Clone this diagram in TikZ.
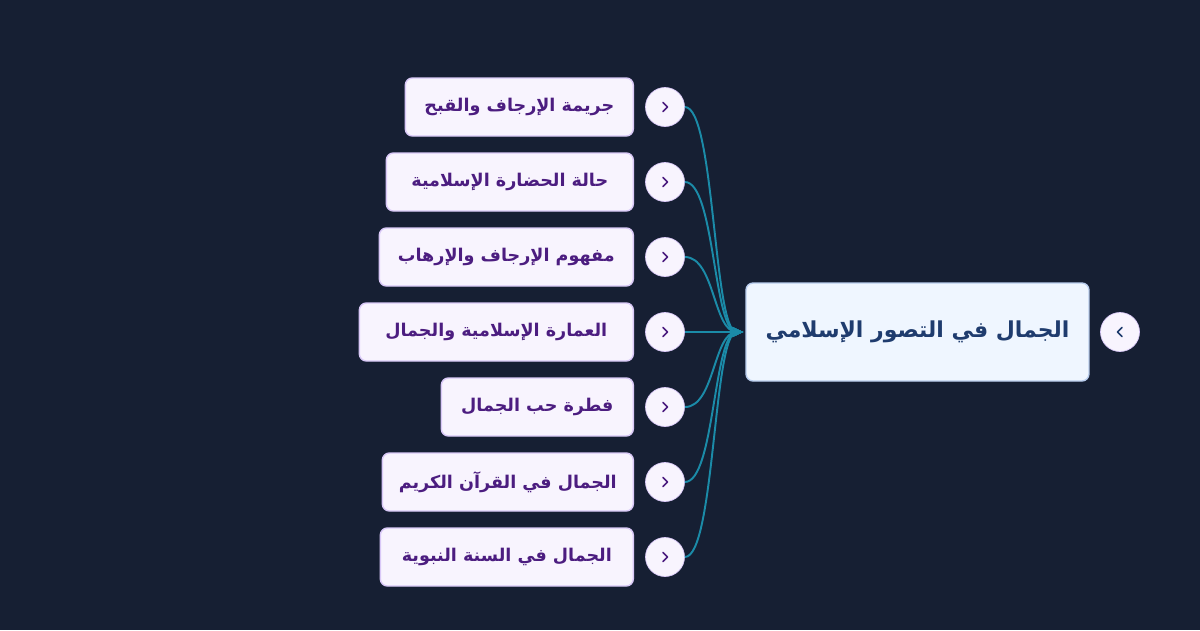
\documentclass[tikz,border=0pt]{standalone}
\usepackage{fontspec}
\usepackage{tikz}
\usetikzlibrary{arrows.meta}
\TeXXeTstate=1
\newfontfamily\arabicfont[Script=Arabic]{DejaVu Sans}
\definecolor{bgnavy}{HTML}{161F33}
\definecolor{rootfill}{HTML}{EFF6FF}
\definecolor{rootline}{HTML}{B9CDEE}
\definecolor{roottext}{HTML}{1F3C6E}
\definecolor{leaffill}{HTML}{F8F4FE}
\definecolor{leafline}{HTML}{D9C8F7}
\definecolor{leaftext}{HTML}{4C1D80}
\definecolor{linkteal}{HTML}{1B8BA8}

\begin{document}
\begin{tikzpicture}[x=0.02cm,y=-0.02cm,
  rootbox/.style={draw=rootline,fill=rootfill,line width=0.8pt,rounded corners=4pt,
    minimum width=6.86cm,minimum height=1.96cm,text=roottext,
    font=\arabicfont\bfseries\fontsize{12.5}{15}\selectfont},
  leafbox/.style={draw=leafline,fill=leaffill,line width=0.8pt,rounded corners=4pt,
    anchor=east,inner xsep=0.3cm,minimum height=1.16cm,text=leaftext,
    font=\arabicfont\bfseries\fontsize{10}{12}\selectfont},
  toggle/.style={circle,draw=leafline,fill=leaffill,line width=0.4pt,minimum size=0.78cm,inner sep=0pt},
  link/.style={linkteal,line width=1.1pt,-{Stealth[length=2.2mm,width=2mm]}},
  chevron/.style={line width=0.9pt,line cap=round,line join=round}]
  % background and page size
  \fill[bgnavy] (0,0) rectangle (1200,630);
  \useasboundingbox (0,0) rectangle (1200,630);
  % root topic
  \node[rootbox] (root) at (917.5,332) {\beginR الجمال في التصور الإسلامي\endR};
  \node[toggle] (roottoggle) at (1120,332) {};
  \draw[chevron,roottext] (roottoggle.center) ++(2,-4.5) -- ++(-4.5,4.5) -- ++(4.5,4.5);
  % subtopics
  \node[leafbox,minimum width=4.56cm] (crime) at (634,107) {\beginR جريمة الإرجاف والقبح\endR};
  \node[leafbox,minimum width=4.94cm] (state) at (634,182) {\beginR حالة الحضارة الإسلامية\endR};
  \node[leafbox,minimum width=5.08cm] (concept) at (634,257) {\beginR مفهوم الإرجاف والإرهاب\endR};
  \node[leafbox,minimum width=5.48cm] (archi) at (634,332) {\beginR العمارة الإسلامية والجمال\endR};
  \node[leafbox,minimum width=3.84cm] (instinct) at (634,407) {\beginR فطرة حب الجمال\endR};
  \node[leafbox,minimum width=5.02cm] (quran) at (634,482) {\beginR الجمال في القرآن الكريم\endR};
  \node[leafbox,minimum width=5.06cm] (sunnah) at (634,557) {\beginR الجمال في السنة النبوية\endR};
  % toggles next to subtopics
  \node[toggle] (t1) at (665,107) {};
  \node[toggle] (t2) at (665,182) {};
  \node[toggle] (t3) at (665,257) {};
  \node[toggle] (t4) at (665,332) {};
  \node[toggle] (t5) at (665,407) {};
  \node[toggle] (t6) at (665,482) {};
  \node[toggle] (t7) at (665,557) {};
  \foreach \t in {t1,t2,t3,t4,t5,t6,t7}
    \draw[chevron,leaftext] (\t.center) ++(-2,-4.5) -- ++(4.5,4.5) -- ++(-4.5,4.5);
  % links into the root
  \coordinate (hub) at ([xshift=-0.04cm]root.west);
  \foreach \t in {t1,t2,t3,t4,t5,t6,t7}
    \draw[link] (\t.east) .. controls ([xshift=0.6cm]\t.east) and ([xshift=-0.6cm]hub) .. (hub);
\end{tikzpicture}
\end{document}
